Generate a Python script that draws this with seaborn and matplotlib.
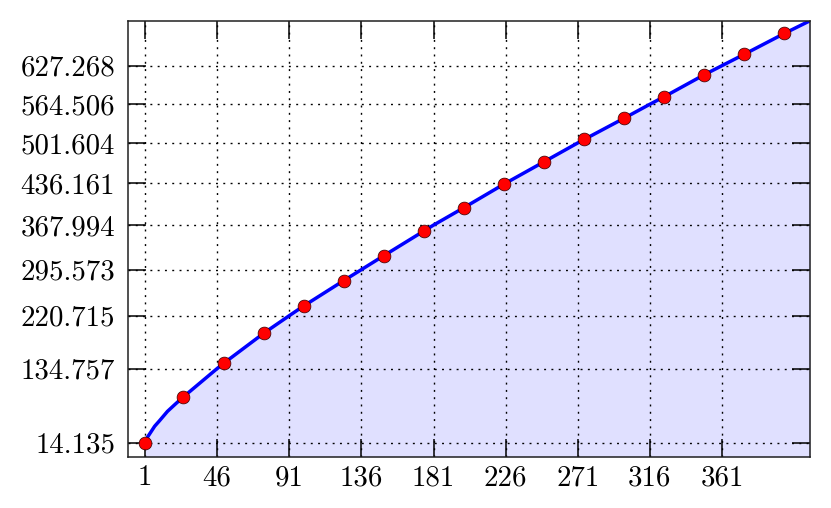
import matplotlib
matplotlib.use("Agg")
import matplotlib.pyplot as plt
import seaborn as sns
import pandas as pd

# ---- data (index n, imaginary part of n-th zeta zero) ----
marker_n = [1, 25, 50, 75, 100, 125, 150, 175, 200, 225, 250, 275, 300, 325, 350, 375, 400]
marker_v = [14.135, 88.809, 143.112, 192.027, 236.524, 277.8, 318.3, 358.4, 396.382,
            434.7, 471.0, 507.2, 541.847, 576.8, 612.6, 645.9, 679.742]

extra_n = [2, 3, 5, 7, 10, 15, 20, 416]
extra_v = [21.022, 25.011, 32.935, 40.919, 49.774, 65.113, 77.145, 700.4]

tick_n = [1, 46, 91, 136, 181, 226, 271, 316, 361]
tick_v = [14.135, 134.757, 220.715, 295.573, 367.994, 436.161, 501.604, 564.506, 627.268]
tick_v_labels = ["14.135", "134.757", "220.715", "295.573", "367.994",
                 "436.161", "501.604", "564.506", "627.268"]
tick_n_labels = [str(v) for v in tick_n]

line_df = pd.DataFrame({"n": marker_n + extra_n + tick_n[1:],
                        "v": marker_v + extra_v + tick_v[1:]})
line_df = line_df.drop_duplicates("n").sort_values("n").reset_index(drop=True)
mark_df = pd.DataFrame({"n": marker_n, "v": marker_v})

sns.set_style("ticks")
plt.rcParams["font.family"] = "serif"
plt.rcParams["font.serif"] = ["cmr10", "DejaVu Serif"]
plt.rcParams["mathtext.fontset"] = "cm"
plt.rcParams["axes.unicode_minus"] = False

fig = plt.figure(figsize=(8.31, 5.08), dpi=100)
ax = fig.add_axes([0.1537, 0.101, 0.9747 - 0.1537, 0.9593 - 0.101])

YMIN, YMAX = -8.6, 700.4
XMIN, XMAX = -9.8, 415.9

ax.fill_between(line_df["n"], line_df["v"], YMIN, color="#e0e0ff", lw=0, zorder=1)
sns.lineplot(data=line_df, x="n", y="v", ax=ax, color="#0000ff", lw=2.5,
             zorder=2, sort=True, estimator=None)
sns.scatterplot(data=mark_df, x="n", y="v", ax=ax, color="#ff0000", s=85,
                edgecolor="#300000", linewidth=0.5, zorder=3)

ax.set_xlim(XMIN, XMAX)
ax.set_ylim(YMIN, YMAX)
ax.set_xticks(tick_n)
ax.set_xticklabels(tick_n_labels)
ax.set_yticks(tick_v)
ax.set_yticklabels(tick_v_labels)
ax.set_xlabel("")
ax.set_ylabel("")

ax.set_axisbelow("line")
ax.grid(True, color="black", lw=1.0, linestyle=(0, (1.4, 3.85)))

ax.tick_params(direction="in", length=13, width=1.1, top=True, right=True,
               labelsize=20.8, colors="black")
ax.tick_params(axis="y", pad=9)
ax.tick_params(axis="x", pad=6)
for s in ax.spines.values():
    s.set_color("#202020")
    s.set_linewidth(1.1)
    s.set_zorder(5)

fig.savefig("out.png", dpi=100)
